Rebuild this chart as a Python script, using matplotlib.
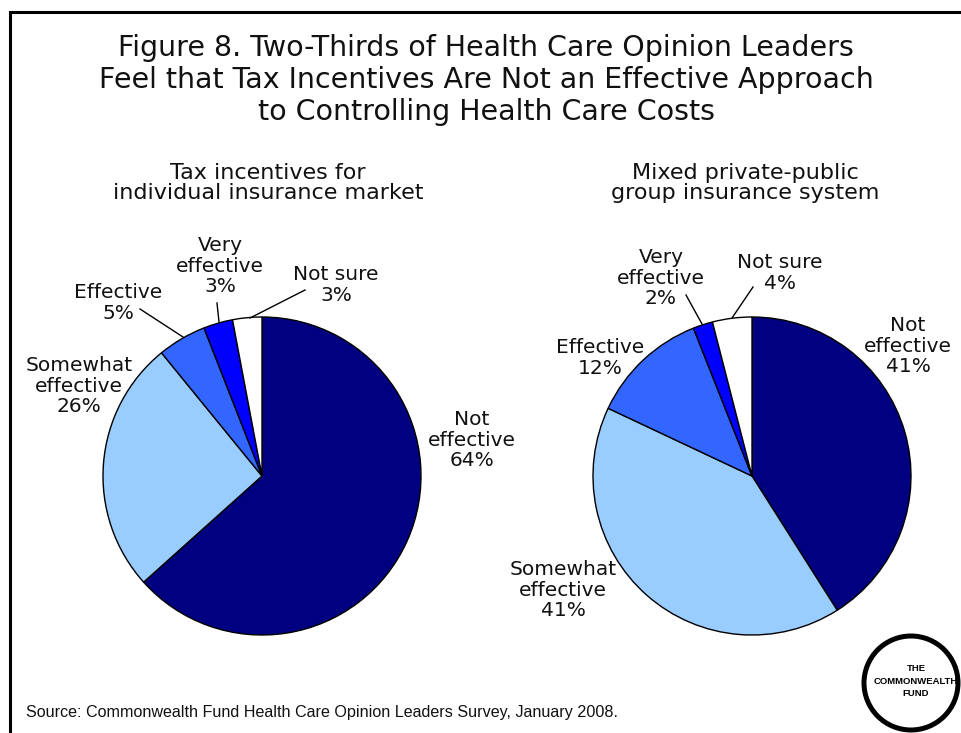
import matplotlib
matplotlib.use("Agg")
import matplotlib.pyplot as plt
from matplotlib.patches import Circle

W, H = 961, 733

labels = ["Not\neffective", "Somewhat\neffective", "Effective", "Very\neffective", "Not sure"]
colors = ["#000080", "#99CCFF", "#3366FF", "#0000FF", "#FFFFFF"]
tax_values = [64, 26, 5, 3, 3]
mixed_values = [41, 41, 12, 2, 4]

title = ("Figure 8. Two-Thirds of Health Care Opinion Leaders\n"
         "Feel that Tax Incentives Are Not an Effective Approach\n"
         "to Controlling Health Care Costs")
sub1 = "Tax incentives for\nindividual insurance market"
sub2 = "Mixed private-public\ngroup insurance system"
source = "Source: Commonwealth Fund Health Care Opinion Leaders Survey, January 2008."


def Y(y):
    # pixel row (from top) -> data y
    return H - y


fig = plt.figure(figsize=(W / 100, H / 100), dpi=100)
ax = fig.add_axes([0, 0, 1, 1])

wp = dict(edgecolor="black", linewidth=1.0)
ax.pie(tax_values, colors=colors, startangle=90, counterclock=False,
       center=(262, Y(476)), radius=159, wedgeprops=wp)
ax.pie(mixed_values, colors=colors, startangle=90, counterclock=False,
       center=(752, Y(476)), radius=159, wedgeprops=wp)

ax.set_xlim(0, W)
ax.set_ylim(0, H)
ax.set_aspect("equal")
ax.axis("off")

# frame (left and top only visible)
ax.plot([10, 10, W + 5], [-5, Y(12), Y(12)], color="black", lw=2.2,
        solid_joinstyle="miter", clip_on=False)

ax.text(486, Y(80), title, ha="center", va="center", fontsize=20.5,
        linespacing=1.18, color="#111111")
ax.text(268, Y(183), sub1, ha="center", va="center", fontsize=16,
        linespacing=1.0, color="#111111")
ax.text(745, Y(183), sub2, ha="center", va="center", fontsize=16,
        linespacing=1.0, color="#111111")

lab = dict(ha="center", va="center", fontsize=14.5, linespacing=1.13, color="#111111")

# left pie labels
ax.text(472, Y(440), f"Not\neffective\n{tax_values[0]}%", **lab)
ax.text(79, Y(386), f"Somewhat\neffective\n{tax_values[1]}%", **lab)
ax.text(118, Y(303), f"Effective\n{tax_values[2]}%", **lab)
ax.text(220, Y(266), f"Very\neffective\n{tax_values[3]}%", **lab)
ax.text(336, Y(285), f"Not sure\n{tax_values[4]}%", **lab)
ax.plot([140, 183], [Y(309), Y(337)], color="black", lw=1)
ax.plot([217, 219], [Y(303), Y(322)], color="black", lw=1)
ax.plot([305, 250], [Y(290), Y(318)], color="black", lw=1)

# right pie labels
ax.text(908, Y(346), f"Not\neffective\n{mixed_values[0]}%", **lab)
ax.text(563, Y(590), f"Somewhat\neffective\n{mixed_values[1]}%", **lab)
ax.text(600, Y(358), f"Effective\n{mixed_values[2]}%", **lab)
ax.text(661, Y(278), f"Very\neffective\n{mixed_values[3]}%", **lab)
ax.text(780, Y(273), f"Not sure\n{mixed_values[4]}%", **lab)
ax.plot([686, 702], [Y(295), Y(324)], color="black", lw=1)
ax.plot([753, 732], [Y(287), Y(318)], color="black", lw=1)

ax.text(26, Y(713), source, ha="left", va="center", fontsize=11.6,
        family="Liberation Sans", color="#111111")

# logo
ax.add_patch(Circle((911, Y(683)), 47, facecolor="white", edgecolor="black",
                    lw=3.6, clip_on=False))
ax.text(916, Y(681), "THE\nCOMMONWEALTH\nFUND", ha="center", va="center",
        fontsize=6.8, fontweight="bold", family="Liberation Sans", linespacing=1.45)

fig.savefig("out.png", dpi=100, facecolor="white")
